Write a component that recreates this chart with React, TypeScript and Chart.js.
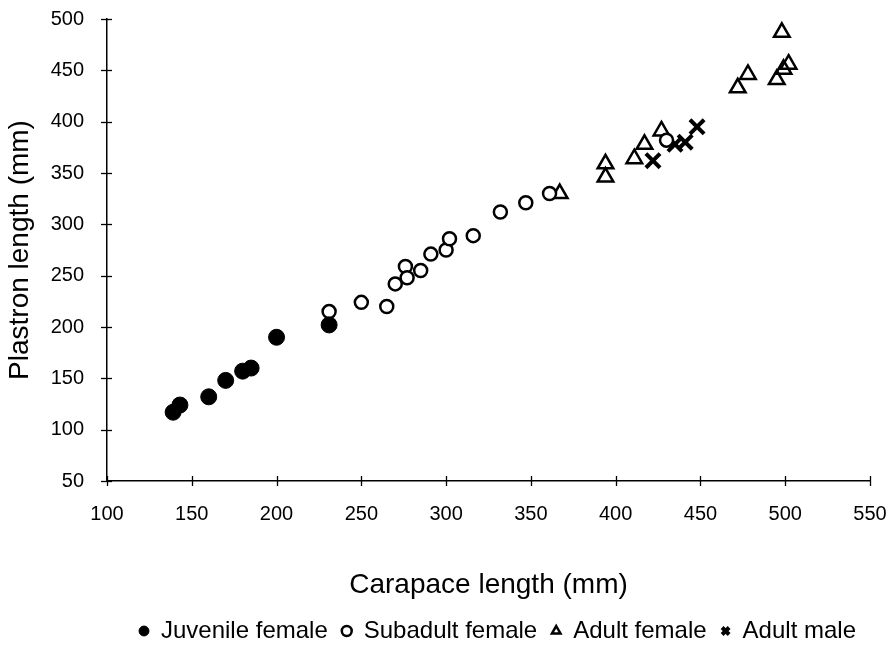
import React, { useEffect, useRef } from "react";
import { Chart, registerables } from "chart.js";

Chart.register(...registerables);

// Carapace (x) and plastron (y) lengths in mm, per group
const juvenileCarapace = [139, 143, 160, 170, 180, 185, 200, 231];
const juvenilePlastron = [117, 124, 132, 148, 157, 160, 190, 202];

const subadultCarapace = [231, 250, 265, 270, 276, 277, 285, 291, 300, 302, 316, 332, 347, 361, 430];
const subadultPlastron = [215, 224, 220, 242, 259, 248, 255, 271, 275, 286, 289, 312, 321, 330, 382];

const adultFemaleCarapace = [367, 394, 394, 411, 417, 427, 472, 478, 495, 499, 502, 498];
const adultFemalePlastron = [330, 359, 346, 364, 378, 391, 433, 446, 441, 451, 456, 487];

const adultMaleCarapace = [422, 435, 441, 448];
const adultMalePlastron = [362, 378, 380, 395];

const seriesNames = ["Juvenile female", "Subadult female", "Adult female", "Adult male"];

const xTitle = "Carapace length (mm)";
const yTitle = "Plastron length (mm)";
const xRange = [100, 550];
const yRange = [50, 500];
const tickStep = 50;

const FONT = "'Liberation Sans', Arial, Helvetica, sans-serif";

const pairUp = (xs: number[], ys: number[]) => xs.map((x, i) => ({ x, y: ys[i] }));

// Short tick marks that cross the axis lines, as on a classic spreadsheet chart
const crossTicks = {
  id: "crossTicks",
  afterDraw(chart: any) {
    const { ctx, chartArea, scales } = chart;
    ctx.save();
    ctx.strokeStyle = "#000";
    ctx.lineWidth = 1.3;
    scales.x.ticks.forEach((t: any) => {
      const px = Math.round(scales.x.getPixelForValue(t.value)) + 0.5;
      ctx.beginPath();
      ctx.moveTo(px, chartArea.bottom - 5);
      ctx.lineTo(px, chartArea.bottom + 5);
      ctx.stroke();
    });
    scales.y.ticks.forEach((t: any) => {
      const py = Math.round(scales.y.getPixelForValue(t.value)) + 0.5;
      ctx.beginPath();
      ctx.moveTo(chartArea.left - 6, py);
      ctx.lineTo(chartArea.left + 5, py);
      ctx.stroke();
    });
    ctx.restore();
  },
};

export default function App() {
  const canvasRef = useRef<HTMLCanvasElement | null>(null);

  useEffect(() => {
    if (!canvasRef.current) return;
    Chart.defaults.font.family = FONT;
    Chart.defaults.color = "#000";

    const chart = new Chart(canvasRef.current, {
      type: "scatter",
      data: {
        datasets: [
          {
            label: seriesNames[0],
            data: pairUp(juvenileCarapace, juvenilePlastron),
            pointStyle: "circle",
            pointRadius: 8,
            backgroundColor: "#000",
            borderColor: "#000",
            borderWidth: 1,
          },
          {
            label: seriesNames[1],
            data: pairUp(subadultCarapace, subadultPlastron),
            pointStyle: "circle",
            pointRadius: 6.5,
            backgroundColor: "#fff",
            borderColor: "#000",
            borderWidth: 2.5,
          },
          {
            label: seriesNames[2],
            data: pairUp(adultFemaleCarapace, adultFemalePlastron),
            pointStyle: "triangle",
            pointRadius: 9,
            backgroundColor: "rgba(255,255,255,0)",
            borderColor: "#000",
            borderWidth: 2.5,
          },
          {
            label: seriesNames[3],
            data: pairUp(adultMaleCarapace, adultMalePlastron),
            pointStyle: "crossRot",
            pointRadius: 10,
            backgroundColor: "#000",
            borderColor: "#000",
            borderWidth: 4,
          },
        ],
      },
      options: {
        responsive: false,
        animation: false,
        devicePixelRatio: 1,
        events: [],
        layout: { padding: { left: 0, top: 19, right: 19, bottom: -5 } },
        plugins: {
          tooltip: { enabled: false },
          legend: {
            position: "bottom",
            align: "end",
            labels: {
              usePointStyle: true,
              boxWidth: 10,
              boxHeight: 7,
              padding: 14,
              color: "#000",
              font: { size: 24, family: FONT },
            },
          },
        },
        scales: {
          x: {
            type: "linear",
            min: xRange[0],
            max: xRange[1],
            afterFit: (scale: any) => {
              scale.height = 124;
              scale.paddingLeft = 0;
              scale.paddingRight = 0;
            },
            ticks: { stepSize: tickStep, padding: 21, color: "#000", font: { size: 20, family: FONT } },
            grid: { display: true, drawOnChartArea: false, drawTicks: false },
            border: { display: true, color: "#000", width: 1.5 },
            title: {
              display: true,
              text: xTitle,
              color: "#000",
              font: { size: 28, family: FONT },
              padding: { top: 0, bottom: 3 },
            },
          },
          y: {
            type: "linear",
            min: yRange[0],
            max: yRange[1],
            afterFit: (scale: any) => {
              scale.width = 107;
              scale.paddingTop = 0;
              scale.paddingBottom = 0;
            },
            ticks: { stepSize: tickStep, padding: 23, color: "#000", font: { size: 20, family: FONT } },
            grid: { display: true, drawOnChartArea: false, drawTicks: false },
            border: { display: true, color: "#000", width: 1.5 },
            title: {
              display: true,
              text: yTitle,
              color: "#000",
              font: { size: 28, family: FONT },
              padding: { top: 3, bottom: 0 },
            },
          },
        },
      },
      plugins: [crossTicks],
    });

    return () => chart.destroy();
  }, []);

  return (
    <div style={{ position: "absolute", left: 0, top: 0, width: 889, height: 648, background: "#fff", overflow: "hidden" }}>
      <canvas ref={canvasRef} width={889} height={648} />
    </div>
  );
}
